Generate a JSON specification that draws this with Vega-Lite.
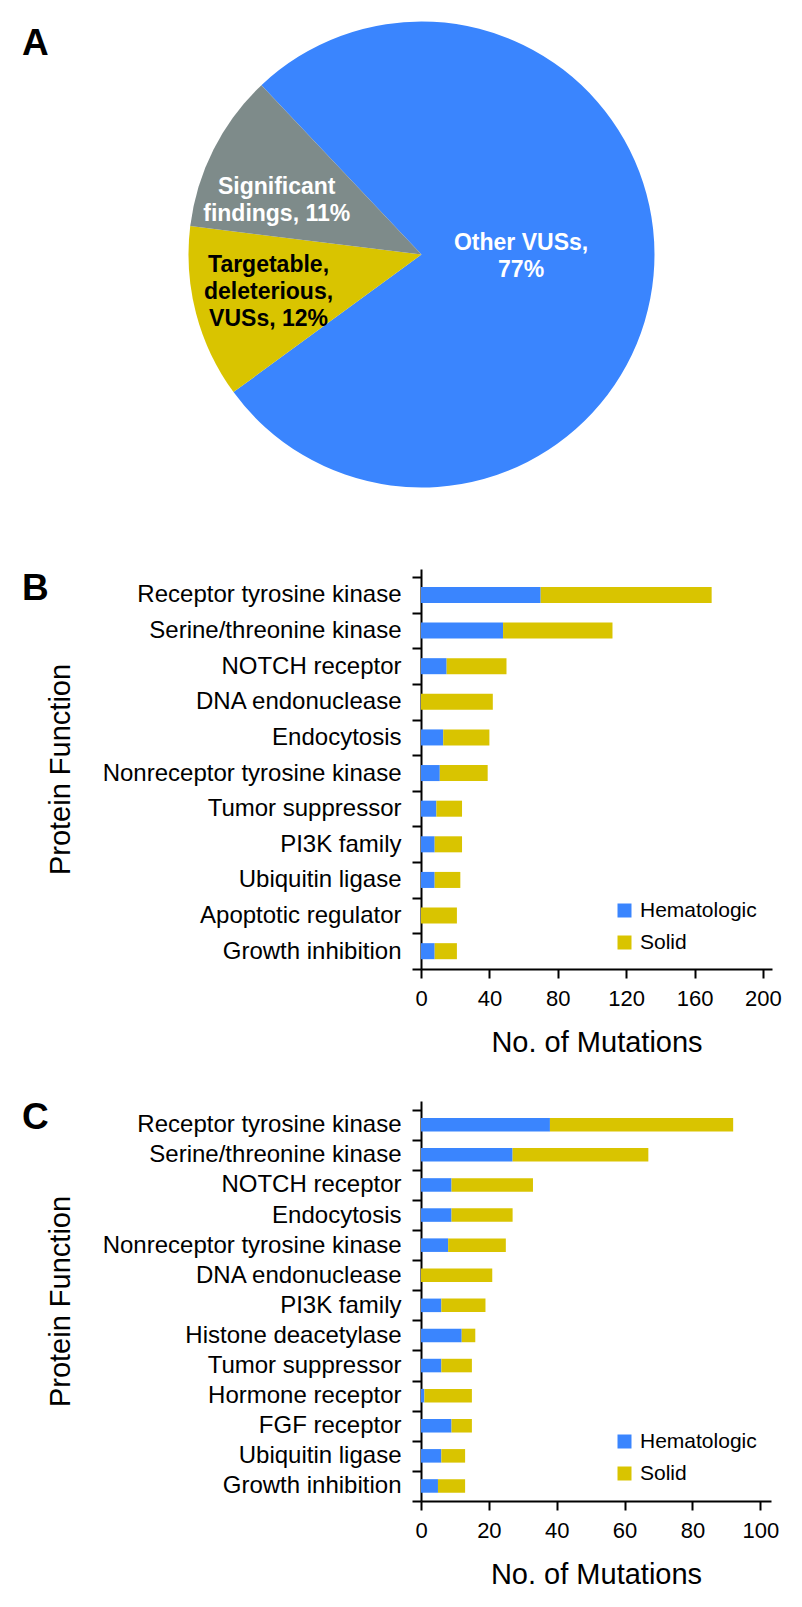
{
  "$schema": "https://vega.github.io/schema/vega-lite/v6.json",
  "padding": {"left": 22, "top": 0, "right": 0, "bottom": 0},
  "background": "white",
  "config": {
    "font": "Liberation Sans",
    "view": {"stroke": null},
    "axis": {"domainColor": "black", "domainWidth": 2, "tickColor": "black", "tickWidth": 2, "tickSize": 9, "labelColor": "black", "titleColor": "black", "grid": false, "titleFontWeight": "normal", "labelLimit": 500},
    "legend": {"padding": 0, "labelFontSize": 21, "labelColor": "black", "symbolType": "square", "symbolSize": 196, "symbolStrokeWidth": 0, "labelOffset": 5, "rowPadding": 10},
    "title": {"fontSize": 37, "fontWeight": "bold", "color": "black", "anchor": "start", "frame": "group", "baseline": "top", "offset": 0}
  },
  "datasets": {
    "pie": [
      {"cat": "Other VUSs", "pct": 77, "idx": 1, "label": "Other VUSs,\n77%"},
      {"cat": "Targetable", "pct": 12, "idx": 2, "label": "Targetable,\ndeleterious,\nVUSs, 12%"},
      {"cat": "Significant", "pct": 11, "idx": 3, "label": "Significant\nfindings, 11%"}
    ],
    "b": [
      {"f": "Receptor tyrosine kinase", "t": "Hematologic", "n": 70},
      {"f": "Receptor tyrosine kinase", "t": "Solid", "n": 100},
      {"f": "Serine/threonine kinase", "t": "Hematologic", "n": 48},
      {"f": "Serine/threonine kinase", "t": "Solid", "n": 64},
      {"f": "NOTCH receptor", "t": "Hematologic", "n": 15},
      {"f": "NOTCH receptor", "t": "Solid", "n": 35},
      {"f": "DNA endonuclease", "t": "Hematologic", "n": 0},
      {"f": "DNA endonuclease", "t": "Solid", "n": 42},
      {"f": "Endocytosis", "t": "Hematologic", "n": 13},
      {"f": "Endocytosis", "t": "Solid", "n": 27},
      {"f": "Nonreceptor tyrosine kinase", "t": "Hematologic", "n": 11},
      {"f": "Nonreceptor tyrosine kinase", "t": "Solid", "n": 28},
      {"f": "Tumor suppressor", "t": "Hematologic", "n": 9},
      {"f": "Tumor suppressor", "t": "Solid", "n": 15},
      {"f": "PI3K family", "t": "Hematologic", "n": 8},
      {"f": "PI3K family", "t": "Solid", "n": 16},
      {"f": "Ubiquitin ligase", "t": "Hematologic", "n": 8},
      {"f": "Ubiquitin ligase", "t": "Solid", "n": 15},
      {"f": "Apoptotic regulator", "t": "Hematologic", "n": 0},
      {"f": "Apoptotic regulator", "t": "Solid", "n": 21},
      {"f": "Growth inhibition", "t": "Hematologic", "n": 8},
      {"f": "Growth inhibition", "t": "Solid", "n": 13}
    ],
    "c": [
      {"f": "Receptor tyrosine kinase", "t": "Hematologic", "n": 38},
      {"f": "Receptor tyrosine kinase", "t": "Solid", "n": 54},
      {"f": "Serine/threonine kinase", "t": "Hematologic", "n": 27},
      {"f": "Serine/threonine kinase", "t": "Solid", "n": 40},
      {"f": "NOTCH receptor", "t": "Hematologic", "n": 9},
      {"f": "NOTCH receptor", "t": "Solid", "n": 24},
      {"f": "Endocytosis", "t": "Hematologic", "n": 9},
      {"f": "Endocytosis", "t": "Solid", "n": 18},
      {"f": "Nonreceptor tyrosine kinase", "t": "Hematologic", "n": 8},
      {"f": "Nonreceptor tyrosine kinase", "t": "Solid", "n": 17},
      {"f": "DNA endonuclease", "t": "Hematologic", "n": 0},
      {"f": "DNA endonuclease", "t": "Solid", "n": 21},
      {"f": "PI3K family", "t": "Hematologic", "n": 6},
      {"f": "PI3K family", "t": "Solid", "n": 13},
      {"f": "Histone deacetylase", "t": "Hematologic", "n": 12},
      {"f": "Histone deacetylase", "t": "Solid", "n": 4},
      {"f": "Tumor suppressor", "t": "Hematologic", "n": 6},
      {"f": "Tumor suppressor", "t": "Solid", "n": 9},
      {"f": "Hormone receptor", "t": "Hematologic", "n": 1},
      {"f": "Hormone receptor", "t": "Solid", "n": 14},
      {"f": "FGF receptor", "t": "Hematologic", "n": 9},
      {"f": "FGF receptor", "t": "Solid", "n": 6},
      {"f": "Ubiquitin ligase", "t": "Hematologic", "n": 6},
      {"f": "Ubiquitin ligase", "t": "Solid", "n": 7},
      {"f": "Growth inhibition", "t": "Hematologic", "n": 5},
      {"f": "Growth inhibition", "t": "Solid", "n": 8}
    ]
  },
  "resolve": {"scale": {"color": "independent"}, "legend": {"color": "independent"}},
  "spacing": 48,
  "vconcat": [
    {
      "width": 1,
      "height": 509,
      "title": {"text": "A", "dx": -399, "dy": 67},
      "data": {"name": "pie"},
      "encoding": {
        "theta": {"field": "pct", "type": "quantitative", "stack": true, "scale": {"range": [5.5257, 11.8089]}},
        "order": {"field": "idx", "type": "quantitative"}
      },
      "layer": [
        {
          "mark": {"type": "arc", "outerRadius": 233, "stroke": null},
          "encoding": {
            "color": {"field": "cat", "type": "nominal", "legend": null,
              "scale": {"domain": ["Other VUSs", "Targetable", "Significant"], "range": ["#3A85FE", "#D9C400", "#7E8B8A"]}}
          }
        },
        {
          "mark": {"type": "text", "radius": 105, "dx": -5, "dy": -21, "lineBreak": "\n", "fontSize": 23, "fontWeight": "bold", "lineHeight": 27, "color": "white", "align": "center", "baseline": "middle"},
          "encoding": {"text": {"condition": {"test": "datum.cat === 'Other VUSs'", "field": "label"}, "value": ""}}
        },
        {
          "mark": {"type": "text", "radius": 151, "dx": -10, "dy": 1, "lineBreak": "\n", "fontSize": 23, "fontWeight": "bold", "lineHeight": 27, "color": "white", "align": "center", "baseline": "middle"},
          "encoding": {"text": {"condition": {"test": "datum.cat === 'Significant'", "field": "label"}, "value": ""}}
        },
        {
          "mark": {"type": "text", "radius": 156, "dx": -2, "dy": -29, "lineBreak": "\n", "fontSize": 23, "fontWeight": "bold", "lineHeight": 27, "color": "black", "align": "center", "baseline": "middle"},
          "encoding": {"text": {"condition": {"test": "datum.cat === 'Targetable'", "field": "label"}, "value": ""}}
        }
      ]
    },
    {
      "spacing": 32,
      "resolve": {"scale": {"color": "independent"}, "legend": {"color": "independent"}},
      "vconcat": [
        {
          "width": 351,
          "height": 400,
          "title": {"text": "B", "dx": -399, "dy": 55},
          "data": {"name": "b"},
          "mark": {"type": "bar", "height": {"band": 0.45}},
          "encoding": {
            "y": {"field": "f", "type": "nominal", "sort": ["Receptor tyrosine kinase", "Serine/threonine kinase", "NOTCH receptor", "DNA endonuclease", "Endocytosis", "Nonreceptor tyrosine kinase", "Tumor suppressor", "PI3K family", "Ubiquitin ligase", "Apoptotic regulator", "Growth inhibition"],
              "scale": {"paddingInner": 0, "paddingOuter": 0.114, "align": 1},
              "axis": {"title": "Protein Function", "tickBand": "extent", "labelFontSize": 24, "labelPadding": 11, "titleFontSize": 29, "titlePadding": 146}},
            "x": {"field": "n", "type": "quantitative", "stack": "zero",
              "scale": {"domain": [0, 205.3], "nice": false},
              "axis": {"values": [0, 40, 80, 120, 160, 200], "title": "No. of Mutations", "labelFontSize": 22, "labelPadding": 10, "labelFlush": false, "titleFontSize": 29, "titlePadding": 19}},
            "color": {"field": "t", "type": "nominal",
              "scale": {"domain": ["Hematologic", "Solid"], "range": ["#3A85FE", "#D9C400"]},
              "legend": {"title": null, "orient": "none", "legendX": 193, "legendY": 331}},
            "order": {"field": "t", "type": "nominal", "sort": "ascending"}
          }
        },
        {
          "width": 350,
          "height": 400,
          "title": {"text": "C", "dx": -399, "dy": 51.5},
          "data": {"name": "c"},
          "mark": {"type": "bar", "height": {"band": 0.45}},
          "encoding": {
            "y": {"field": "f", "type": "nominal", "sort": ["Receptor tyrosine kinase", "Serine/threonine kinase", "NOTCH receptor", "Endocytosis", "Nonreceptor tyrosine kinase", "DNA endonuclease", "PI3K family", "Histone deacetylase", "Tumor suppressor", "Hormone receptor", "FGF receptor", "Ubiquitin ligase", "Growth inhibition"],
              "scale": {"paddingInner": 0, "paddingOuter": 0.1445, "align": 1},
              "axis": {"title": "Protein Function", "tickBand": "extent", "labelFontSize": 24, "labelPadding": 11, "titleFontSize": 29, "titlePadding": 146}},
            "x": {"field": "n", "type": "quantitative", "stack": "zero",
              "scale": {"domain": [0, 103.15], "nice": false},
              "axis": {"values": [0, 20, 40, 60, 80, 100], "title": "No. of Mutations", "labelFontSize": 22, "labelPadding": 10, "labelFlush": false, "titleFontSize": 29, "titlePadding": 19}},
            "color": {"field": "t", "type": "nominal",
              "scale": {"domain": ["Hematologic", "Solid"], "range": ["#3A85FE", "#D9C400"]},
              "legend": {"title": null, "orient": "none", "legendX": 193, "legendY": 330}},
            "order": {"field": "t", "type": "nominal", "sort": "ascending"}
          }
        }
      ]
    }
  ]
}
